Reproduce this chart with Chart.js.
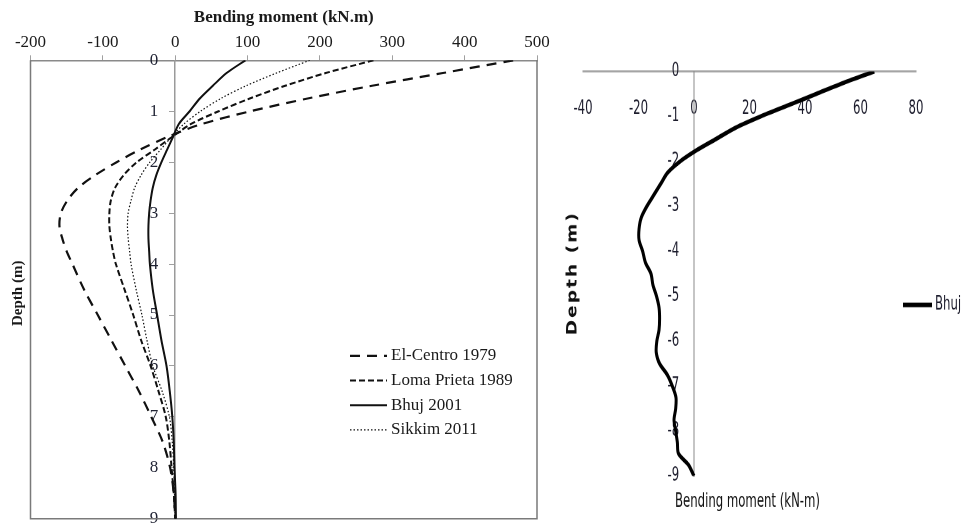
<!DOCTYPE html>
<html>
<head>
<meta charset="utf-8">
<title>Bending moment vs depth</title>
<script src="https://cdn.jsdelivr.net/npm/chart.js@4.4.0/dist/chart.umd.min.js"></script>
<style>
    html, body { margin: 0; padding: 0; background: #fff; }
    body { width: 963px; height: 532px; position: relative; overflow: hidden; }
    #leftWrap { position: absolute; left: 0; top: 0; width: 560px; height: 532px; }
    /* the Excel panel on the right is stretched vertically in the source figure */
    #rightWrap { position: absolute; left: 560px; top: 0; width: 403px; height: 367px;
                 transform: scaleY(1.45); transform-origin: 0 0; }
</style>
</head>
<body>
<div id="leftWrap"><canvas id="leftChart"></canvas></div>
<div id="rightWrap"><canvas id="rightChart"></canvas></div>
<script>
// -----------------------------------------------------------------------------
// Left panel: four earthquakes, depth (m) vs bending moment (kN.m)
// -----------------------------------------------------------------------------
const depthLeft = [0, 0.25, 0.5, 0.75, 1, 1.25, 1.5, 1.75, 2, 2.25, 2.5, 2.75, 3, 3.25,
    3.5, 3.75, 4, 4.5, 5, 5.5, 6, 6.5, 7, 7.5, 8, 8.5, 9];

const elCentro = [467, 370, 272, 183, 104, 37, -10, -48, -81, -110, -134, -149, -158, -160,
    -156, -150, -142, -126, -107, -88, -69, -50, -33, -17, -7, -2, 0];
const lomaPrieta = [274, 208, 152, 103, 60, 22, -4, -28, -53, -71, -83, -89, -91, -91,
    -89, -86, -82, -70, -58, -47, -34, -23, -13, -8, -5, -2, 0];
const bhuj2001 = [97, 71, 52, 34, 20, 5, -3, -11, -19, -26, -31, -34, -36, -37,
    -37, -36, -35, -31, -25, -19, -12, -7.5, -4, -2, -1, 0.5, 1];
const sikkim2011 = [186, 140, 98, 63, 35, 12, -5, -20, -35, -47, -56, -61, -65, -66,
    -65, -63, -61, -54, -46, -39, -31, -18, -8, -4, -2, -1, 0];

const leftLabels = ['El-Centro 1979', 'Loma Prieta 1989', 'Bhuj 2001', 'Sikkim 2011'];
const leftMomentTicks = [-200, -100, 0, 100, 200, 300, 400, 500];
const leftDepthTicks = [0, 1, 2, 3, 4, 5, 6, 7, 8, 9];

// -----------------------------------------------------------------------------
// Right panel: Bhuj only, depth given as negative values
// -----------------------------------------------------------------------------
const depthRight = [0, -0.25, -0.5, -0.75, -1, -1.25, -1.5, -1.75, -2, -2.25, -2.5, -2.75,
    -3, -3.25, -3.5, -3.75, -4, -4.25, -4.5, -4.75, -5, -5.25, -5.5, -5.75, -6, -6.25,
    -6.5, -6.75, -7, -7.25, -7.5, -7.75, -8, -8.25, -8.5, -8.75, -9];
const bhujRight = [65, 54, 44, 34, 24, 15, 8, 1, -5, -9.5, -12, -14.5, -17, -19, -19.8,
    -19.8, -18.5, -17.5, -15.5, -14.8, -13.5, -12.6, -12.4, -12.6, -13.4, -13.6, -12.4,
    -9.6, -7.8, -6.5, -6.6, -7.2, -6.6, -6, -5.6, -2, 0];
const rightMomentTicks = [-40, -20, 0, 20, 40, 60, 80];
const rightDepthTicks = [0, -1, -2, -3, -4, -5, -6, -7, -8, -9];

const SERIF = "'Liberation Serif', 'Times New Roman', serif";
const NARROW = "'DejaVu Sans Condensed', 'DejaVu Sans', sans-serif";

function toPoints(moments, depths) {
    return moments.map((m, i) => ({ x: m, y: depths[i] }));
}

// gray box round the plot area (top side is the axis border)
function framePlugin(color, width) {
    return {
        id: 'frame',
        beforeDatasetsDraw(chart) {
            const { left, top, right, bottom } = chart.chartArea;
            const ctx = chart.ctx;
            ctx.save();
            ctx.strokeStyle = color;
            ctx.lineWidth = width;
            ctx.beginPath();
            ctx.moveTo(left, top);
            ctx.lineTo(left, bottom);
            ctx.lineTo(right, bottom);
            ctx.lineTo(right, top);
            ctx.stroke();
            ctx.restore();
        }
    };
}

// simple legend drawn at a spot relative to the chart area
function legendPlugin(cfg) {
    return {
        id: 'placedLegend',
        afterDatasetsDraw(chart) {
            const ctx = chart.ctx;
            const area = chart.chartArea;
            ctx.save();
            ctx.font = cfg.font;
            ctx.fillStyle = cfg.color;
            ctx.textBaseline = 'middle';
            ctx.textAlign = 'left';
            chart.data.datasets.forEach((ds, i) => {
                const x = area.left + cfg.dx;
                const y = area.top + cfg.dy + i * cfg.rowGap;
                ctx.strokeStyle = ds.borderColor;
                ctx.lineWidth = cfg.lineWidth || ds.borderWidth;
                ctx.setLineDash(ds.borderDash || []);
                ctx.beginPath();
                ctx.moveTo(x, y);
                ctx.lineTo(x + cfg.lineLength, y);
                ctx.stroke();
                ctx.setLineDash([]);
                ctx.fillText(ds.label, x + cfg.lineLength + cfg.gap, y);
            });
            ctx.restore();
        }
    };
}

// axis titles that Chart.js cannot place where the original has them
function titlesPlugin(items) {
    return {
        id: 'freeTitles',
        afterDraw(chart) {
            const ctx = chart.ctx;
            const area = chart.chartArea;
            items.forEach(t => {
                ctx.save();
                ctx.font = t.font;
                ctx.fillStyle = t.color;
                ctx.textAlign = 'center';
                ctx.textBaseline = 'middle';
                if (t.spacing) ctx.letterSpacing = t.spacing;
                ctx.translate(area.left + t.dx,
                              t.fromY === 'bottom' ? area.bottom + t.dy : area.top + t.dy);
                if (t.rotate) ctx.rotate(t.rotate);
                ctx.fillText(t.text, 0, 0);
                ctx.restore();
            });
        }
    };
}

// ---------------------------------------------------------------- left chart
new Chart(document.getElementById('leftChart'), {
    type: 'line',
    data: {
        datasets: [
            {
                label: leftLabels[0],
                data: toPoints(elCentro, depthLeft),
                borderColor: '#111',
                borderWidth: 2.2,
                borderDash: [10, 7]
            },
            {
                label: leftLabels[1],
                data: toPoints(lomaPrieta, depthLeft),
                borderColor: '#111',
                borderWidth: 2,
                borderDash: [6, 3]
            },
            {
                label: leftLabels[2],
                data: toPoints(bhuj2001, depthLeft),
                borderColor: '#111',
                borderWidth: 2
            },
            {
                label: leftLabels[3],
                data: toPoints(sikkim2011, depthLeft),
                borderColor: '#111',
                borderWidth: 1.2,
                borderDash: [1.5, 2]
            }
        ]
    },
    options: {
        responsive: true,
        maintainAspectRatio: false,
        animation: false,
        indexAxis: 'y',
        layout: { padding: { left: 30.5, right: 23, top: 0.5, bottom: 12.7 } },
        elements: {
            point: { radius: 0 },
            line: { tension: 0.3, fill: false }
        },
        plugins: {
            legend: { display: false },
            tooltip: { enabled: false }
        },
        scales: {
            x: {
                type: 'linear',
                position: 'top',
                min: leftMomentTicks[0],
                max: leftMomentTicks[leftMomentTicks.length - 1],
                afterBuildTicks: axis => { axis.ticks = leftMomentTicks.map(v => ({ value: v })); },
                ticks: {
                    padding: 3,
                    color: '#1a1a1a',
                    font: { family: SERIF, size: 17 }
                },
                grid: { drawOnChartArea: false, tickLength: 5, color: '#a0a0a0' },
                border: { color: '#8a8a8a', width: 1.5 },
                title: {
                    display: true,
                    text: 'Bending moment (kN.m)',
                    color: '#1a1a1a',
                    font: { family: SERIF, size: 17, weight: 'bold' },
                    padding: { top: 7, bottom: 1 }
                }
            },
            y: {
                type: 'linear',
                position: { x: 0 },
                reverse: true,
                min: 0,
                max: 9,
                afterBuildTicks: axis => { axis.ticks = leftDepthTicks.map(v => ({ value: v })); },
                ticks: {
                    color: '#1f2233',
                    font: { family: SERIF, size: 17 },
                    callback: v => v + '    '
                },
                grid: { drawOnChartArea: false, tickLength: 5, color: '#a0a0a0' },
                border: { color: '#9a9a9a', width: 1.5 }
            }
        }
    },
    plugins: [
        framePlugin('#7a7a7a', 1.5),
        legendPlugin({
            dx: 319.5, dy: 295.5, rowGap: 24.7, lineLength: 37, gap: 4,
            font: '17px ' + SERIF, color: '#1a1a1a'
        }),
        titlesPlugin([
            {
                text: 'Depth (m)', dx: -12.5, dy: 233, rotate: -Math.PI / 2,
                font: 'bold 15px ' + SERIF, color: '#1a1a1a'
            }
        ])
    ]
});

// ---------------------------------------------------------------- right chart
// drawn 1/1.45 as tall, then stretched by the wrapper's CSS transform
new Chart(document.getElementById('rightChart'), {
    type: 'line',
    data: {
        datasets: [{
            label: 'Bhuj',
            data: toPoints(bhujRight, depthRight),
            borderColor: '#000',
            borderWidth: 3
        }]
    },
    options: {
        responsive: true,
        maintainAspectRatio: false,
        animation: false,
        devicePixelRatio: 2,
        indexAxis: 'y',
        layout: { padding: { left: 23, right: 47, top: 49.3, bottom: 38.7 } },
        elements: {
            point: { radius: 0 },
            line: { tension: 0.3, fill: false }
        },
        plugins: {
            legend: { display: false },
            tooltip: { enabled: false }
        },
        scales: {
            x: {
                type: 'linear',
                position: { y: 0 },
                min: rightMomentTicks[0],
                max: rightMomentTicks[rightMomentTicks.length - 1],
                afterBuildTicks: axis => { axis.ticks = rightMomentTicks.map(v => ({ value: v })); },
                ticks: {
                    padding: 0,
                    color: '#1c1c2c',
                    font: { family: NARROW, size: 13 }
                },
                // hidden tick marks: their length only pushes the labels down
                grid: { display: false, drawTicks: true, tickLength: 18 },
                border: { color: '#a3a3a3', width: 1.4 }
            },
            y: {
                type: 'linear',
                position: { x: 0 },
                min: -9,
                max: 0,
                afterBuildTicks: axis => { axis.ticks = rightDepthTicks.map(v => ({ value: v })); },
                ticks: {
                    color: '#1c1c2c',
                    font: { family: NARROW, size: 13 },
                    callback: v => v + '    '
                },
                grid: { display: false, drawTicks: false },
                border: { color: '#8a8a8a', width: 1 }
            }
        }
    },
    plugins: [
        legendPlugin({
            dx: 320, dy: 161, rowGap: 20, lineLength: 29, gap: 3, lineWidth: 3.2,
            font: '13px ' + NARROW, color: '#1c1c2c'
        }),
        titlesPlugin([
            {
                text: 'Bending moment (kN-m)', dx: 164.5, dy: 17.7, fromY: 'bottom',
                font: '13px ' + NARROW, color: '#111'
            },
            {
                text: 'Depth (m)', dx: -10, dy: 139, rotate: -Math.PI / 2, spacing: '1.5px',
                font: 'bold 14px ' + NARROW, color: '#111'
            }
        ])
    ]
});
</script>
</body>
</html>
